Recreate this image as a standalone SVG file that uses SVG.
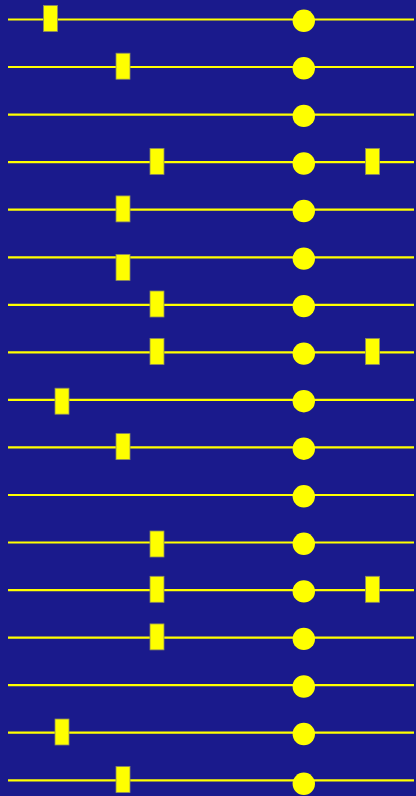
<svg xmlns="http://www.w3.org/2000/svg" width="416" height="796" viewBox="0 0 416 796">
<style>
.bg{fill:#1a1a8c}
.ln{stroke:#ffff00;stroke-width:2.2}
.dot{fill:#ffff00}
.blk{fill:#ffff00;stroke:#8a8a60;stroke-width:0.8}
</style>
<rect class="bg" x="0" y="0" width="416" height="796"/>
<g id="connectors">
<line class="ln" x1="8" y1="19.5" x2="414" y2="19.5"/>
<line class="ln" x1="8" y1="67" x2="414" y2="67"/>
<line class="ln" x1="8" y1="114.6" x2="414" y2="114.6"/>
<line class="ln" x1="8" y1="162.2" x2="414" y2="162.2"/>
<line class="ln" x1="8" y1="209.7" x2="414" y2="209.7"/>
<line class="ln" x1="8" y1="257.3" x2="414" y2="257.3"/>
<line class="ln" x1="8" y1="304.8" x2="414" y2="304.8"/>
<line class="ln" x1="8" y1="352.3" x2="414" y2="352.3"/>
<line class="ln" x1="8" y1="399.9" x2="414" y2="399.9"/>
<line class="ln" x1="8" y1="447.4" x2="414" y2="447.4"/>
<line class="ln" x1="8" y1="495" x2="414" y2="495"/>
<line class="ln" x1="8" y1="542.5" x2="414" y2="542.5"/>
<line class="ln" x1="8" y1="590.1" x2="414" y2="590.1"/>
<line class="ln" x1="8" y1="637.6" x2="414" y2="637.6"/>
<line class="ln" x1="8" y1="685.2" x2="414" y2="685.2"/>
<line class="ln" x1="8" y1="732.7" x2="414" y2="732.7"/>
<line class="ln" x1="8" y1="780.3" x2="414" y2="780.3"/>
</g>
<g id="row0"><rect class="blk" x="43.5" y="5.5" width="14" height="26"/><circle class="dot" cx="303.8" cy="20.8" r="11.2"/></g>
<g id="row1"><rect class="blk" x="116" y="53.2" width="14" height="26"/><circle class="dot" cx="303.8" cy="68.3" r="11.2"/></g>
<g id="row2"><circle class="dot" cx="303.8" cy="115.9" r="11.2"/></g>
<g id="row3"><rect class="blk" x="150" y="148.4" width="14" height="26"/><circle class="dot" cx="303.8" cy="163.5" r="11.2"/><rect class="blk" x="365.5" y="148.4" width="14" height="26"/></g>
<g id="row4"><rect class="blk" x="116" y="195.9" width="14" height="26"/><circle class="dot" cx="303.8" cy="211" r="11.2"/></g>
<g id="row5"><rect class="blk" x="116" y="254.4" width="14" height="26"/><circle class="dot" cx="303.8" cy="258.6" r="11.2"/></g>
<g id="row6"><rect class="blk" x="150" y="291" width="14" height="26"/><circle class="dot" cx="303.8" cy="306.1" r="11.2"/></g>
<g id="row7"><rect class="blk" x="150" y="338.5" width="14" height="26"/><circle class="dot" cx="303.8" cy="353.6" r="11.2"/><rect class="blk" x="365.5" y="338.5" width="14" height="26"/></g>
<g id="row8"><rect class="blk" x="55" y="388.2" width="14" height="26"/><circle class="dot" cx="303.8" cy="401.2" r="11.2"/></g>
<g id="row9"><rect class="blk" x="116" y="433.6" width="14" height="26"/><circle class="dot" cx="303.8" cy="448.7" r="11.2"/></g>
<g id="row10"><circle class="dot" cx="303.8" cy="496.3" r="11.2"/></g>
<g id="row11"><rect class="blk" x="150" y="531" width="14" height="26"/><circle class="dot" cx="303.8" cy="543.8" r="11.2"/></g>
<g id="row12"><rect class="blk" x="150" y="576.3" width="14" height="26"/><circle class="dot" cx="303.8" cy="591.4" r="11.2"/><rect class="blk" x="365.5" y="576.3" width="14" height="26"/></g>
<g id="row13"><rect class="blk" x="150" y="623.9" width="14" height="26"/><circle class="dot" cx="303.8" cy="638.9" r="11.2"/></g>
<g id="row14"><circle class="dot" cx="303.8" cy="686.5" r="11.2"/></g>
<g id="row15"><rect class="blk" x="55" y="719" width="14" height="26"/><circle class="dot" cx="303.8" cy="734" r="11.2"/></g>
<g id="row16"><rect class="blk" x="116" y="766.6" width="14" height="26"/><circle class="dot" cx="303.8" cy="783.8" r="11.2"/></g>
</svg>
